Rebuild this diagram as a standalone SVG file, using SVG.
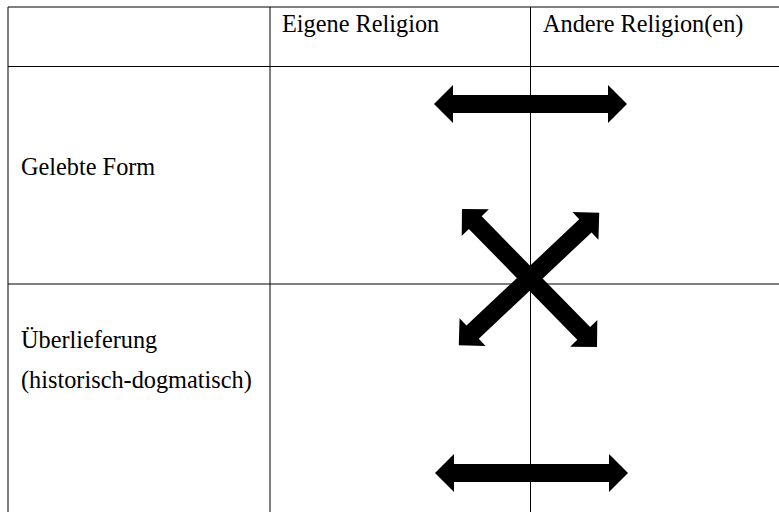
<svg xmlns="http://www.w3.org/2000/svg" width="779" height="512" viewBox="0 0 779 512">
<style>
.grid{stroke:#000;stroke-width:1;fill:none}
.lbl{font-family:"Liberation Serif","Times New Roman",serif;font-size:24.3px;fill:#000}
.arr{fill:#000}
</style>
<defs>
<path id="dbl" d="M-96.5,0 L-77.5,-19 L-77.5,-9 L77.5,-9 L77.5,-19 L96.5,0 L77.5,19 L77.5,9 L-77.5,9 L-77.5,19 Z"/>
</defs>
<rect width="779" height="512" fill="#fff"/>
<g id="table" class="grid">
<line x1="8" y1="7" x2="779" y2="7"/>
<line x1="8" y1="66.5" x2="779" y2="66.5"/>
<line x1="8" y1="284" x2="779" y2="284"/>
<line x1="8" y1="7" x2="8" y2="512"/>
<line x1="270" y1="7" x2="270" y2="512"/>
<line x1="530.5" y1="7" x2="530.5" y2="512"/>
</g>
<g id="header-eigene"><text class="lbl" x="282" y="32">Eigene Religion</text></g>
<g id="header-andere"><text class="lbl" x="543" y="32">Andere Religion(en)</text></g>
<g id="row-gelebte"><text class="lbl" x="21" y="175">Gelebte Form</text></g>
<g id="row-ueberlieferung"><text class="lbl" x="21" y="348">Überlieferung</text><text class="lbl" x="21" y="388">(historisch-dogmatisch)</text></g>
<g id="connectors" class="arr">
<use href="#dbl" transform="translate(530.5,104)"/>
<use href="#dbl" transform="translate(531.5,473)"/>
<use href="#dbl" transform="translate(529.5,278) rotate(45.6)"/>
<use href="#dbl" transform="translate(529,279) rotate(-43.3)"/>
</g>
</svg>
